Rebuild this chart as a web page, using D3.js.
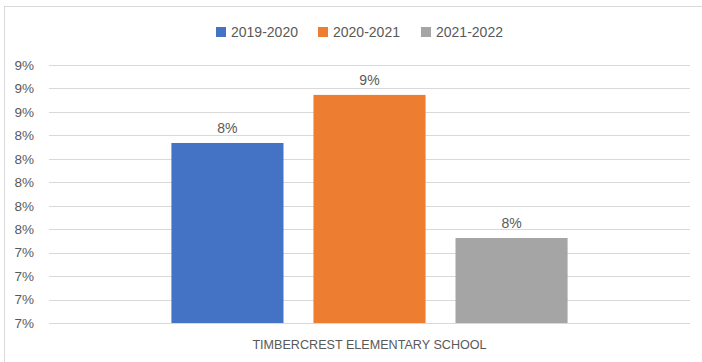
<!DOCTYPE html>
<html>
<head>
<meta charset="utf-8">
<script src="https://cdn.jsdelivr.net/npm/d3@7"></script>
<style>
  html, body { margin: 0; padding: 0; background: #fff; }
  svg { display: block; }
  text { font-family: "Liberation Sans", Arial, sans-serif; fill: #595959; }
</style>
</head>
<body>
<div id="chart"></div>
<script>
const categories = ["TIMBERCREST ELEMENTARY SCHOOL"];
const seriesNames = ["2019-2020", "2020-2021", "2021-2022"];
const seriesValues = [0.08335, 0.08745, 0.07525];
const seriesLabels = ["8%", "9%", "8%"];
const seriesColors = ["#4472C4", "#ED7D31", "#A5A5A5"];
const yTicks = [0.068, 0.070, 0.072, 0.074, 0.076, 0.078, 0.080, 0.082, 0.084, 0.086, 0.088, 0.090];

const W = 702, H = 362;
const svg = d3.select("#chart").append("svg").attr("width", W).attr("height", H);

// outer frame (partially visible)
svg.append("rect").attr("x", 4.5).attr("y", 6.5).attr("width", 800).attr("height", 400)
  .attr("fill", "none").attr("stroke", "#d9d9d9").attr("stroke-width", 1);

const plot = { left: 49, right: 690, top: 65, bottom: 323 };

const y = d3.scaleLinear().domain([yTicks[0], yTicks[yTicks.length - 1]]).range([plot.bottom, plot.top]);
const x0 = d3.scaleBand().domain(categories).range([plot.left, plot.right]).paddingInner(0).paddingOuter(0.309);
const x1 = d3.scaleBand().domain(seriesNames).range([0, x0.bandwidth()]).paddingInner(0.211).paddingOuter(0);

// y axis labels
const yAxis = d3.axisLeft(y).tickValues(yTicks).tickFormat(d3.format(".0%")).tickSize(0).tickPadding(15);
const gAxis = svg.append("g").attr("transform", `translate(${plot.left},0)`).call(yAxis);
gAxis.select(".domain").remove();
gAxis.selectAll("text").attr("font-size", 13.5).attr("fill", "#595959").attr("font-family", "Liberation Sans, Arial, sans-serif");

// gridlines
svg.append("g").selectAll("line").data(yTicks).join("line")
  .attr("x1", plot.left).attr("x2", plot.right)
  .attr("y1", d => Math.round(y(d)) + 0.5).attr("y2", d => Math.round(y(d)) + 0.5)
  .attr("stroke", "#d9d9d9").attr("stroke-width", 1);

// bars
const data = seriesNames.map((s, i) => ({ name: s, value: seriesValues[i], label: seriesLabels[i], color: seriesColors[i] }));
const g = svg.append("g").attr("transform", `translate(${x0(categories[0])},0)`);
g.selectAll("rect").data(data).join("rect")
  .attr("x", d => x1(d.name)).attr("width", x1.bandwidth())
  .attr("y", d => y(d.value)).attr("height", d => y(yTicks[0]) - y(d.value))
  .attr("fill", d => d.color);

g.selectAll("text.lbl").data(data).join("text").attr("class", "lbl")
  .attr("x", d => x1(d.name) + x1.bandwidth() / 2).attr("y", d => y(d.value) - 10)
  .attr("text-anchor", "middle").attr("font-size", 14).text(d => d.label);

// category label
svg.append("text").attr("x", x0(categories[0]) + x0.bandwidth() / 2).attr("y", 349)
  .attr("text-anchor", "middle").attr("font-size", 12.6).text(categories[0]);

// legend
const legendX = [216, 318, 421];
const lg = svg.append("g");
data.forEach((d, i) => {
  lg.append("rect").attr("x", legendX[i]).attr("y", 27).attr("width", 10).attr("height", 10).attr("fill", d.color);
  lg.append("text").attr("x", legendX[i] + 15).attr("y", 37).attr("font-size", 14).text(d.name);
});
</script>
</body>
</html>
